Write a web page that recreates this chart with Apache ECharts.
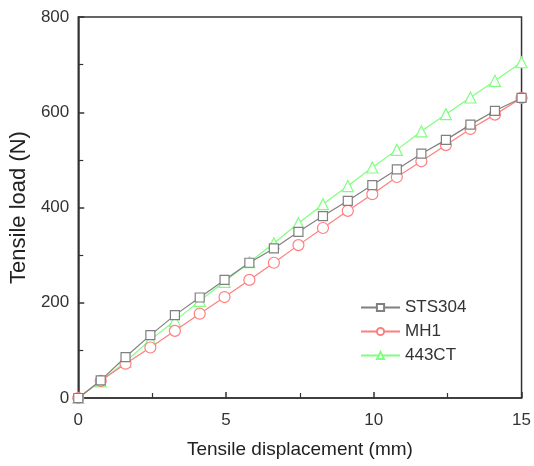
<!DOCTYPE html>
<html><head><meta charset="utf-8">
<script src="https://cdn.jsdelivr.net/npm/echarts@6/dist/echarts.min.js"></script>
<style>html,body{margin:0;padding:0;background:#fff}#c{width:534px;height:466px}</style>
</head><body><div id="c"></div>
<script>
const xValues = [0, 0.76, 1.6, 2.44, 3.27, 4.11, 4.95, 5.79, 6.62, 7.45, 8.28, 9.12, 9.95, 10.78, 11.61, 12.44, 13.27, 14.1, 15];
const sts304 = [0, 37, 86, 132, 174, 211, 248, 284, 314, 349, 382, 414, 447, 480, 513, 542, 574, 603, 630];
const mh1 = [0, 36, 72, 106, 141, 177, 212, 248, 284, 321, 357, 393, 428, 464, 497, 531, 565, 595, 630];
const ct443 = [0, 35, 76, 122, 162, 204, 244, 285, 325, 367, 407, 445, 484, 521, 560, 596, 631, 666, 705];
const seriesNames = ['STS304', 'MH1', '443CT'];
const seriesColors = ['#808080', '#ff7f7f', '#7fff7f'];
const seriesSymbols = ['rect', 'circle', 'triangle'];

const pair = arr => xValues.map((x, i) => [x, arr[i]]);
const dataSets = [sts304, mh1, ct443];
const font = '"Liberation Sans", Arial, sans-serif';

const chart = echarts.init(document.getElementById('c'), null, {renderer: 'canvas'});
chart.setOption({
  animation: false,
  backgroundColor: '#fff',
  grid: {left: 73, right: 11, top: 17, bottom: 68, show: true, borderColor: '#333', borderWidth: 1.5, backgroundColor: 'transparent'},
  legend: {
    orient: 'vertical', left: 355, top: 294, itemWidth: 39, itemHeight: 9, itemGap: 7,
    textStyle: {fontFamily: font, fontSize: 17, color: '#333'},
    data: seriesNames
  },
  xAxis: {
    type: 'value', min: 0, max: 15, interval: 5,
    name: 'Tensile displacement (mm)', nameLocation: 'middle', nameGap: 42,
    nameTextStyle: {fontFamily: font, fontSize: 19, color: '#222'},
    axisLine: {lineStyle: {color: '#333', width: 1.5}},
    axisTick: {inside: true, length: 6, lineStyle: {color: '#333', width: 1.5}},
    minorTick: {show: true, splitNumber: 2, length: 5, lineStyle: {color: '#333', width: 1.2}},
    axisLabel: {fontFamily: font, fontSize: 17, color: '#333', margin: 14},
    splitLine: {show: false}
  },
  yAxis: {
    type: 'value', min: 0, max: 800, interval: 200,
    name: 'Tensile load (N)', nameLocation: 'middle', nameGap: 45, nameRotate: 90,
    nameTextStyle: {fontFamily: font, fontSize: 22, color: '#222'},
    axisLine: {lineStyle: {color: '#333', width: 1.5}},
    axisTick: {inside: true, length: 6, lineStyle: {color: '#333', width: 1.5}},
    minorTick: {show: true, splitNumber: 2, length: 5, lineStyle: {color: '#333', width: 1.2}},
    axisLabel: {fontFamily: font, fontSize: 17, color: '#333', margin: 9},
    splitLine: {show: false}
  },
  series: seriesNames.map((n, i) => ({
    name: n, type: 'line', data: pair(dataSets[i]),
    symbol: seriesSymbols[i], symbolSize: i === 0 ? 9 : 11, showAllSymbol: true,
    lineStyle: {color: seriesColors[i], width: 1.2},
    itemStyle: {color: '#fff', borderColor: seriesColors[i], borderWidth: 1.2},
    z: 3 - i
  }))
});
</script></body></html>
